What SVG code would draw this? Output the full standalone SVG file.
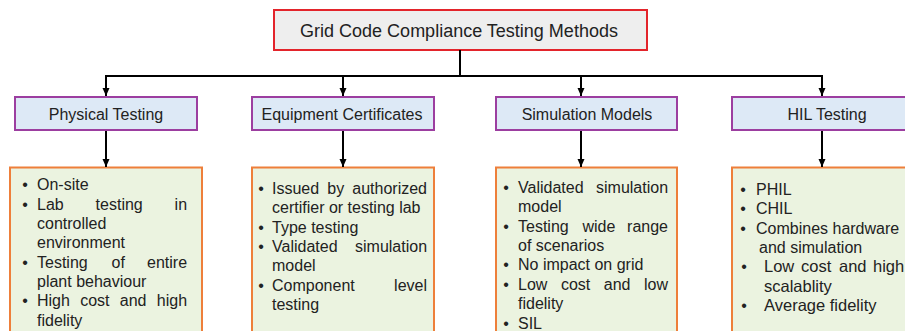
<svg xmlns="http://www.w3.org/2000/svg" width="905" height="331" viewBox="0 0 905 331">
  <defs>
    <marker id="arrow" viewBox="0 0 8 8" refX="8" refY="4" markerWidth="8" markerHeight="8" markerUnits="userSpaceOnUse" orient="auto">
      <path d="M0,0.5 L8,4 L0,7.5 Z" fill="#000"/>
    </marker>
    <style>
      text { font-family: "Liberation Sans", Arial, sans-serif; fill: #222; }
      .title-box { fill: #eeeeee; stroke: #e3242b; stroke-width: 2; }
      .title { font-size: 18px; text-anchor: middle; }
      .cat-box { fill: #dde9f6; stroke: #9c3ea0; stroke-width: 2; }
      .cat { font-size: 16px; text-anchor: middle; }
      .body-box { fill: #ebf3e0; stroke: #ee7f3a; stroke-width: 2; }
      .body { font-size: 16px; }
      .body-lg { font-size: 16.5px; }
      .bullet { font-size: 16px; text-anchor: middle; }
      .wire { fill: none; stroke: #000; stroke-width: 2; }
    </style>
  </defs>

  <rect width="905" height="331" fill="#ffffff"/>

  <!-- root -->
  <g id="root">
    <rect class="title-box" x="274" y="10" width="373" height="40"/>
    <text class="title" x="459" y="37">Grid Code Compliance Testing Methods</text>
  </g>

  <!-- method categories -->
  <g id="physical-testing">
    <rect class="cat-box" x="15" y="97" width="182" height="33"/>
    <text class="cat" x="106" y="120">Physical Testing</text>
  </g>
  <g id="equipment-certificates">
    <rect class="cat-box" x="252" y="97" width="182" height="33"/>
    <text class="cat" x="342" y="120">Equipment Certificates</text>
  </g>
  <g id="simulation-models">
    <rect class="cat-box" x="496" y="97" width="181" height="33"/>
    <text class="cat" x="587" y="120">Simulation Models</text>
  </g>
  <g id="hil-testing">
    <rect class="cat-box" x="732" y="97" width="190" height="33"/>
    <text class="cat" x="827" y="120">HIL Testing</text>
  </g>

  <!-- detail lists -->
  <g id="physical-details">
    <rect class="body-box" x="10" y="167.5" width="192" height="180"/>
    <text class="bullet" x="25" y="190">•</text>
    <text class="bullet" x="25" y="209.5">•</text>
    <text class="bullet" x="25" y="267.5">•</text>
    <text class="bullet" x="25" y="306">•</text>
    <text class="body" x="37" y="190">On-site</text>
    <text class="body" y="209.5"><tspan x="37">Lab</tspan><tspan x="95.6">testing</tspan><tspan x="174.6">in</tspan></text>
    <text class="body" x="37" y="229">controlled</text>
    <text class="body" x="37" y="248">environment</text>
    <text class="body" y="267.5"><tspan x="37">Testing</tspan><tspan x="111.6">of</tspan><tspan x="147">entire</tspan></text>
    <text class="body" x="37" y="287">plant behaviour</text>
    <text class="body" y="306"><tspan x="37">High</tspan><tspan x="80.2">cost</tspan><tspan x="119.8">and</tspan><tspan x="156.8">high</tspan></text>
    <text class="body" x="37" y="326">fidelity</text>
  </g>

  <g id="equipment-details">
    <rect class="body-box" x="252" y="167.5" width="182" height="180"/>
    <text class="bullet" x="261" y="194">•</text>
    <text class="bullet" x="261" y="233">•</text>
    <text class="bullet" x="261" y="252">•</text>
    <text class="bullet" x="261" y="291">•</text>
    <text class="body" y="194"><tspan x="272">Issued</tspan><tspan x="327.3">by</tspan><tspan x="352.3">authorized</tspan></text>
    <text class="body" x="272" y="213">certifier or testing lab</text>
    <text class="body" x="272" y="233">Type testing</text>
    <text class="body" y="252"><tspan x="272">Validated</tspan><tspan x="355">simulation</tspan></text>
    <text class="body" x="272" y="271">model</text>
    <text class="body" y="291"><tspan x="272">Component</tspan><tspan x="394.1">level</tspan></text>
    <text class="body" x="272" y="310">testing</text>
  </g>

  <g id="simulation-details">
    <rect class="body-box" x="496" y="167.5" width="181" height="180"/>
    <text class="bullet" x="506" y="193">•</text>
    <text class="bullet" x="506" y="232">•</text>
    <text class="bullet" x="506" y="270">•</text>
    <text class="bullet" x="506" y="290">•</text>
    <text class="bullet" x="506" y="329">•</text>
    <text class="body" y="193"><tspan x="518">Validated</tspan><tspan x="596">simulation</tspan></text>
    <text class="body" x="518" y="212">model</text>
    <text class="body" y="232"><tspan x="518">Testing</tspan><tspan x="582.4">wide</tspan><tspan x="627.1">range</tspan></text>
    <text class="body" x="518" y="251">of scenarios</text>
    <text class="body" x="518" y="270">No impact on grid</text>
    <text class="body" y="290"><tspan x="518">Low</tspan><tspan x="560.9">cost</tspan><tspan x="603.8">and</tspan><tspan x="644">low</tspan></text>
    <text class="body" x="518" y="309">fidelity</text>
    <text class="body" x="518" y="329">SIL</text>
  </g>

  <g id="hil-details">
    <rect class="body-box" x="732" y="167.5" width="190" height="180"/>
    <text class="bullet" x="743" y="195">•</text>
    <text class="bullet" x="743" y="214">•</text>
    <text class="bullet" x="743" y="234">•</text>
    <text class="bullet" x="744" y="272">•</text>
    <text class="bullet" x="744" y="311">•</text>
    <text class="body" x="756" y="195">PHIL</text>
    <text class="body" x="756" y="214">CHIL</text>
    <text class="body" x="756" y="234">Combines hardware</text>
    <text class="body" x="759" y="253">and simulation</text>
    <text class="body-lg" y="272"><tspan x="764">Low</tspan><tspan x="801">cost</tspan><tspan x="839">and</tspan><tspan x="873">high</tspan></text>
    <text class="body-lg" x="764" y="292">scalablity</text>
    <text class="body-lg" x="764" y="311">Average fidelity</text>
  </g>

  <!-- connectors -->
  <g id="connectors">
    <path class="wire" d="M460,50 V76"/>
    <path class="wire" d="M105,76 H823"/>
    <path class="wire" d="M106,75 V96" marker-end="url(#arrow)"/>
    <path class="wire" d="M343,76 V96" marker-end="url(#arrow)"/>
    <path class="wire" d="M581,76 V96" marker-end="url(#arrow)"/>
    <path class="wire" d="M822,75 V96" marker-end="url(#arrow)"/>
    <path class="wire" d="M106,131 V167" marker-end="url(#arrow)"/>
    <path class="wire" d="M343,131 V167" marker-end="url(#arrow)"/>
    <path class="wire" d="M581,131 V167" marker-end="url(#arrow)"/>
    <path class="wire" d="M822,131 V167" marker-end="url(#arrow)"/>
  </g>
</svg>
